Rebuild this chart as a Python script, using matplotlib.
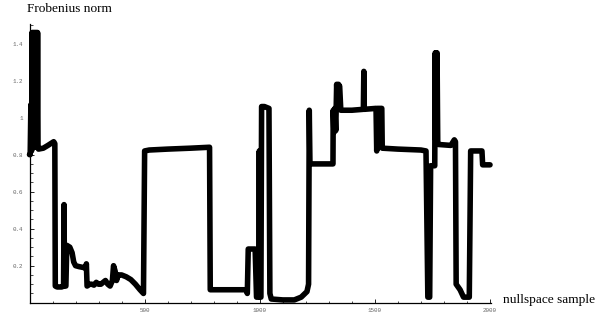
import matplotlib
matplotlib.use("Agg")
import matplotlib.pyplot as plt
from matplotlib.ticker import FixedLocator, MultipleLocator

# ---- data ----
sample = [0, 3, 6, 9, 11, 13, 15, 17, 19, 21, 23, 25, 27, 29, 31, 33, 35, 37, 39,
          60, 80, 105, 110, 112, 120, 140, 148, 150, 152, 158, 162,
          175, 185, 192, 200, 215, 235, 244, 247, 250, 262, 270, 280,
          290, 300, 310, 320, 330, 340, 350, 360, 365, 372, 378, 385,
          400, 420, 440, 460, 480, 495,
          500, 520, 600, 700, 782, 785, 850, 940, 946, 950, 980, 986,
          995, 998, 1001, 1005, 1008, 1020, 1040, 1044, 1050, 1100,
          1150, 1180, 1205, 1212, 1215, 1218, 1318, 1319, 1322, 1326,
          1330, 1334, 1338, 1342, 1347, 1352, 1400, 1450, 1452, 1454,
          1505, 1508, 1512, 1530, 1532, 1600, 1700, 1722, 1730, 1738,
          1742, 1760, 1762, 1764, 1766, 1768, 1770, 1773, 1776, 1830, 1845, 1850,
          1853, 1870, 1885, 1910, 1916, 1965, 1968, 2000]
frob = [0.80, 0.80, 1.07, 0.82, 1.46, 0.84, 1.46, 0.84, 1.46, 0.84, 1.46, 0.84, 1.46, 0.84,
        1.46, 0.84, 1.46, 0.84, 0.83,
        0.835, 0.85, 0.87, 0.86, 0.09, 0.085, 0.085, 0.09, 0.53, 0.09, 0.09, 0.31,
        0.30, 0.27, 0.22, 0.20, 0.195, 0.19, 0.185, 0.21, 0.09, 0.10, 0.10, 0.095,
        0.11, 0.10, 0.10, 0.11, 0.12, 0.10, 0.09, 0.12, 0.20, 0.17, 0.12, 0.15,
        0.15, 0.14, 0.125, 0.10, 0.07, 0.05,
        0.82, 0.825, 0.83, 0.835, 0.84, 0.07, 0.07, 0.07, 0.05, 0.29, 0.29, 0.03,
        0.03, 0.82, 0.03, 0.03, 1.06, 1.06, 1.05, 0.05, 0.02, 0.015,
        0.015, 0.03, 0.06, 0.10, 1.04, 0.75, 0.75, 1.04, 0.92, 1.05,
        0.93, 1.18, 1.05, 1.18, 1.17, 1.04, 1.04, 1.045, 1.25, 1.045,
        1.05, 0.82, 1.05, 1.05, 0.835, 0.83, 0.825, 0.82, 0.03, 0.03,
        0.74, 0.74, 1.35, 0.88, 1.35, 0.88, 1.35, 0.86, 0.855, 0.85, 0.88, 0.87,
        0.10, 0.07, 0.03, 0.03, 0.82, 0.82, 0.745, 0.745]

x_ticks = [500, 1000, 1500, 2000]
x_labels = ["500", "1000", "1500", "2000"]
y_ticks = [0.2, 0.4, 0.6, 0.8, 1.0, 1.2, 1.4]
y_labels = ["0.2", "0.4", "0.6", "0.8", "1", "1.2", "1.4"]

W, H = 615, 320
fig = plt.figure(figsize=(W / 100, H / 100), dpi=100)
x0, x1 = 29.5, 490.7
y0, y1 = 302.7, 24.0
ax = fig.add_axes([x0 / W, (H - y0) / H, (x1 - x0) / W, (y0 - y1) / H])
ax.set_xlim(0, 2003)
ax.set_ylim(0, 1.506)

ax.plot(sample, frob, color="black", lw=4.0, solid_joinstyle="round",
        solid_capstyle="round", clip_on=False, zorder=3)

for s in ("top", "right"):
    ax.spines[s].set_visible(False)
for s in ("left", "bottom"):
    ax.spines[s].set_linewidth(0.9)
    ax.spines[s].set_color("black")

ax.xaxis.set_major_locator(FixedLocator(x_ticks))
ax.set_xticklabels(x_labels)
ax.yaxis.set_major_locator(FixedLocator(y_ticks))
ax.set_yticklabels(y_labels)
ax.xaxis.set_minor_locator(MultipleLocator(100))
ax.yaxis.set_minor_locator(MultipleLocator(0.05))

ax.tick_params(which="major", direction="in", length=3.0, width=0.6, color="black",
               labelcolor="#666666", labelsize=4.2)
ax.tick_params(which="minor", direction="in", length=1.8, width=0.5, color="black")
ax.tick_params(axis="x", which="major", pad=4)
ax.tick_params(axis="y", which="major", pad=4.5)
for lab in ax.get_xticklabels() + ax.get_yticklabels():
    lab.set_fontfamily(["Liberation Mono", "DejaVu Sans Mono"])

serif = ["Liberation Serif", "DejaVu Serif"]
fig.text(27 / W, 1 - 11.5 / H, "Frobenius norm", family=serif, fontsize=9.6,
         ha="left", va="baseline")
fig.text(503 / W, 1 - 303 / H, "nullspace sample", family=serif, fontsize=9.6,
         ha="left", va="baseline")

fig.savefig("out.png", dpi=100)
